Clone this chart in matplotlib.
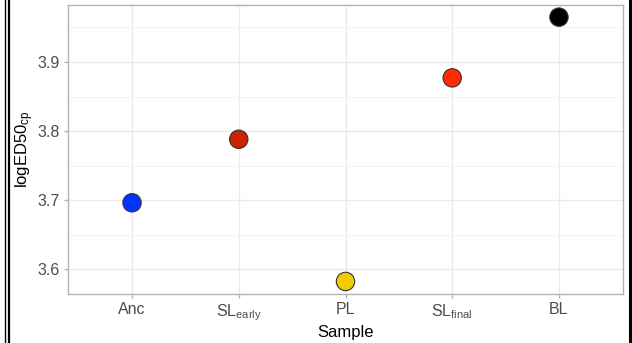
import matplotlib
matplotlib.use("Agg")
import matplotlib.pyplot as plt
from matplotlib.lines import Line2D

plt.rcParams['font.family'] = ['Liberation Sans', 'DejaVu Sans']
plt.rcParams['mathtext.fontset'] = 'custom'
plt.rcParams['mathtext.rm'] = 'Liberation Sans'
plt.rcParams['mathtext.it'] = 'Liberation Sans'

# samples and their logED50 values
samples = ['Anc', 'SL$_{\\mathrm{early}}$', 'PL', 'SL$_{\\mathrm{final}}$', 'BL']
log_ed50 = [3.696, 3.788, 3.582, 3.877, 3.965]
colours = ['#0033FF', '#CC2200', '#F2CC00', '#FF2A00', '#000000']
y_ticks = [3.6, 3.7, 3.8, 3.9]

W, H = 632, 343
fig = plt.figure(figsize=(W / 100, H / 100), dpi=100)
ax = fig.add_axes([68 / W, 1 - 294 / H, (623 - 68) / W, (294 - 5) / H])

x = list(range(1, len(samples) + 1))
ax.scatter(x, log_ed50, s=175, c=colours, edgecolors='#333333', linewidths=0.8, zorder=3)

ax.set_xlim(0.4, 5.6)
ax.set_ylim(3.5638, 3.9826)
ax.set_xticks(x)
ax.set_xticklabels(samples)
ax.set_yticks(y_ticks)
ax.set_yticks([3.65, 3.75, 3.85, 3.95], minor=True)

# light grid like ggplot's theme_light
ax.grid(True, which='major', color='#EBEBEB', linewidth=1.0, zorder=0)
ax.grid(True, which='minor', axis='y', color='#F3F3F3', linewidth=0.7, zorder=0)
ax.set_axisbelow(True)
for sp in ax.spines.values():
    sp.set_color('#B3B3B3')
    sp.set_linewidth(1.0)
ax.tick_params(axis='both', which='major', colors='#B3B3B3', length=3, width=1,
               labelcolor='#4D4D4D', labelsize=11.5, pad=3)
ax.tick_params(axis='y', which='minor', length=0)

ax.set_xlabel('Sample', fontsize=12, color='black')
ax.xaxis.set_label_coords(0.5, -(332 - 294) / 289, transform=ax.transAxes)
ax.set_ylabel('logED50$_{\\mathrm{cp}}$', fontsize=12, color='black')
ax.yaxis.set_label_coords(-(68 - 25) / 555, 0.5)
ax.yaxis.label.set_va('center')
ax.xaxis.label.set_va('center')

# outer frame lines at the figure edges
fig.add_artist(Line2D([4.5 / W, 4.5 / W], [0, 1], color='black', linewidth=1.0))
fig.add_artist(Line2D([8.5 / W, 8.5 / W], [0, 1], color='black', linewidth=1.6))
fig.add_artist(Line2D([630 / W, 630 / W], [0, 1], color='black', linewidth=2.2))

fig.savefig('out.png', dpi=100)
